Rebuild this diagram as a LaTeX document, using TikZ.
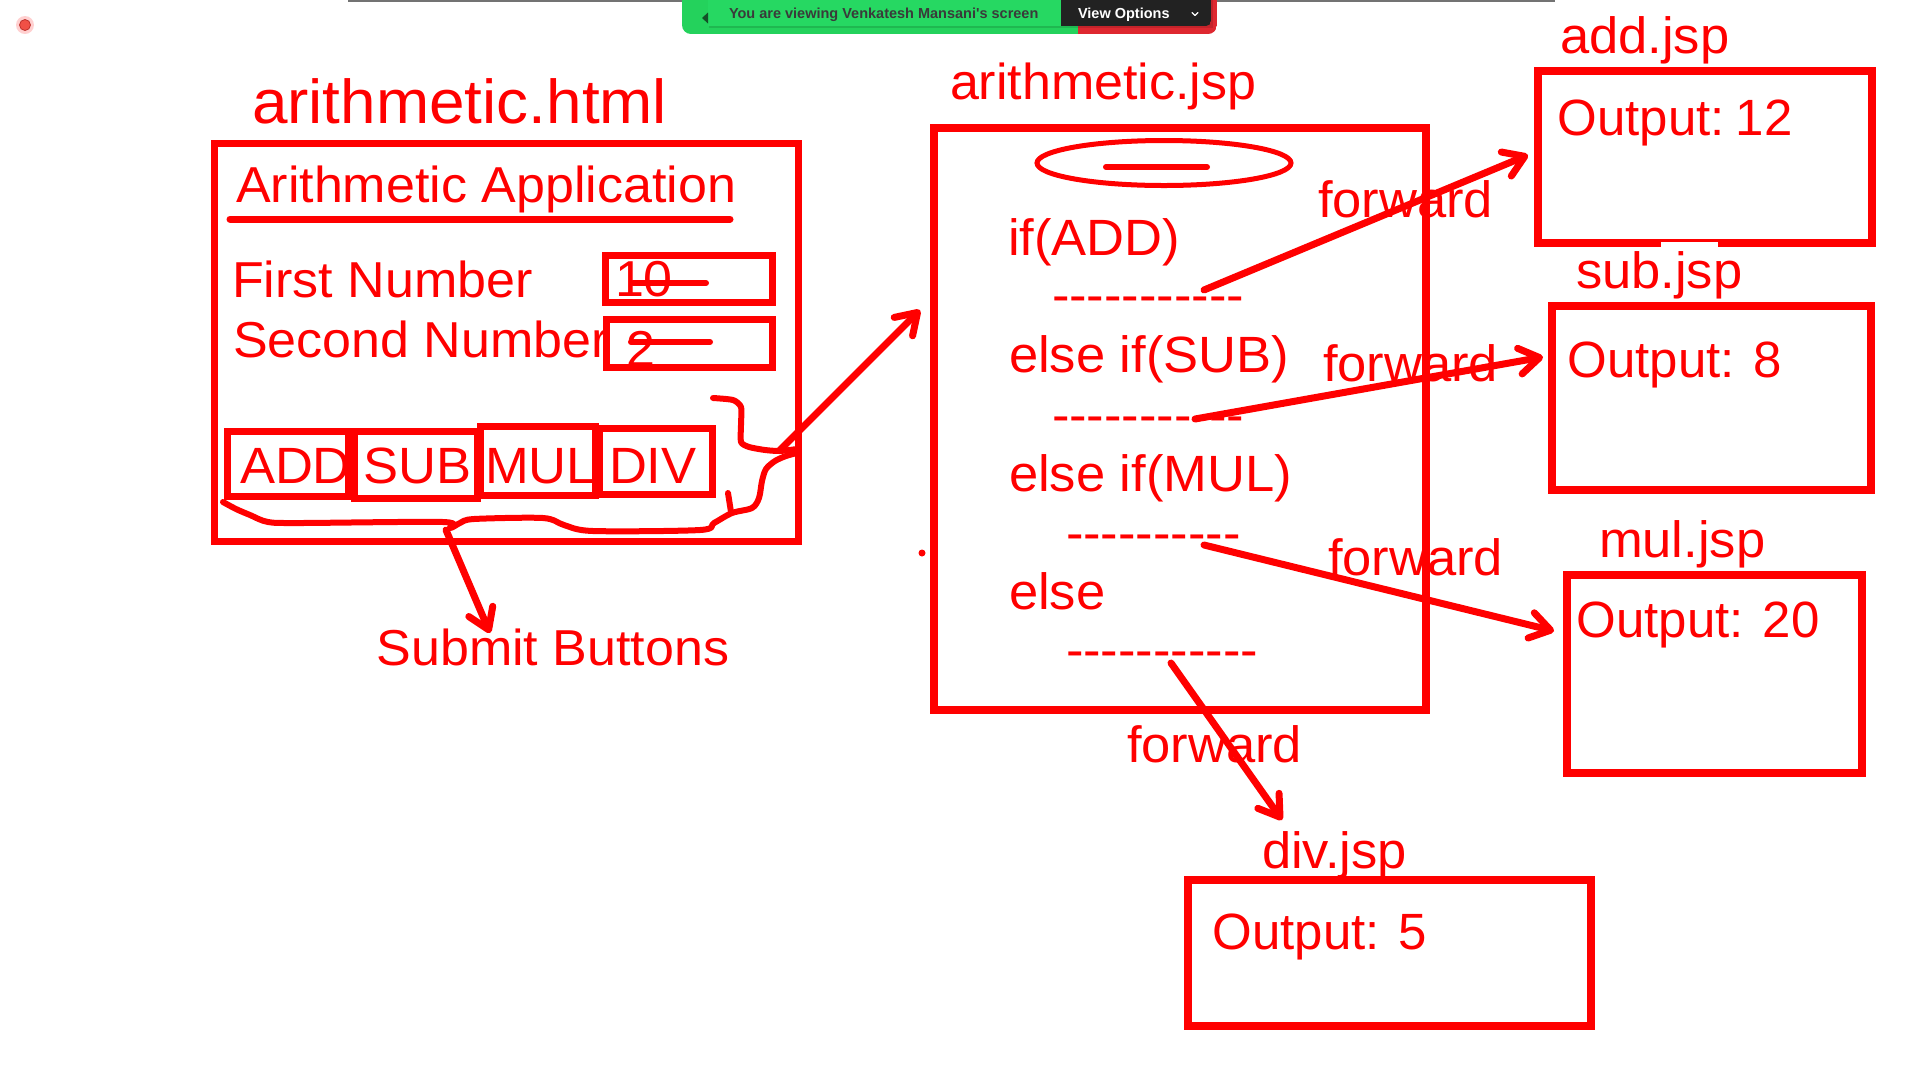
\documentclass[tikz,border=0pt]{standalone}
\usepackage{fontspec}
\setmainfont{Liberation Sans}[Ligatures=TeXOff, FakeStretch=1.03]
\newfontfamily\bannerfont{Liberation Sans}[Ligatures=TeXOff]
\usetikzlibrary{arrows.meta}
\definecolor{ink}{RGB}{255,0,0}
\definecolor{bgreen}{RGB}{36,210,92}
\definecolor{bgreen2}{RGB}{38,216,98}
\definecolor{bred}{RGB}{222,40,48}
\definecolor{bdark}{RGB}{34,34,34}
\definecolor{btext}{RGB}{58,58,58}
\definecolor{bdkgreen}{RGB}{20,80,40}
\definecolor{dotred}{RGB}{240,80,70}
\definecolor{dotedge}{RGB}{190,50,45}
\begin{document}
\begin{tikzpicture}[x=1pt,y=-1pt,
  every node/.style={inner sep=0pt, outer sep=0pt, text=ink},
  lbl/.style={anchor=base west, font=\fontsize{51}{51}\selectfont},
  outlbl/.style={anchor=base west, font=\bannerfont\fontsize{51}{51}\selectfont},
  lblbig/.style={anchor=base west, font=\fontsize{62}{62}\selectfont},
  lblmid/.style={anchor=base west, font=\fontsize{50.5}{50.5}\selectfont},
  frame/.style={draw=ink, line width=8pt},
  btn/.style={draw=ink, line width=7pt},
  pen/.style={draw=ink, line width=6pt, line cap=round, line join=round},
  arr/.style={draw=ink, line width=7pt, line cap=round, line join=round,
    -{Straight Barb[length=20pt,width=26pt,round]}},
  bantext/.style={anchor=base west, font=\bannerfont\bfseries\fontsize{14.5}{14.5}\selectfont}
]
\useasboundingbox (0,0) rectangle (1920,1080);
\fill[white] (0,0) rectangle (1920,1080);

% top bar
\draw[black!55, line width=1.5pt] (348,0.75) -- (1555,0.75);
\begin{scope}
  \clip[rounded corners=9pt] (682,-12) rectangle (1217,34);
  \fill[bgreen] (682,-12) rectangle (1078,34);
  \fill[bred] (1078,-12) rectangle (1217,34);
\end{scope}
\fill[black, opacity=0.12] (709,-5) rectangle (1213,28);
\fill[bgreen2] (708,-5) rectangle (1061,26);
\begin{scope}
  \clip[rounded corners=5pt] (1040,-12) rectangle (1211,26);
  \fill[bdark] (1061,-12) rectangle (1211,26);
\end{scope}
\fill[bdkgreen] (702,18) -- (708,12.5) -- (708,23.5) -- cycle;
\node[bantext, text=btext] (bantxt) at (729,18.5) {You are viewing Venkatesh Mansani's screen};
\node[bantext, text=white] (viewopt) at (1078,18.5) {View Options};
\draw[white, line width=1.3pt, line cap=round, line join=round] (1192,12.5) -- (1195,15.5) -- (1198,12.5);

% red dot
\fill[red!30, opacity=0.6] (25,25) circle [radius=9];
\fill[dotred] (25,25) circle [radius=5.5];
\draw[dotedge, line width=0.8pt] (25,25) circle [radius=5.5];

% ---------- arithmetic.html ----------
\node[lblbig] (thtml) at (252,123) {arithmetic.html};
\node[btn] (html) at (506,342.5) [minimum width=584pt, minimum height=398pt] {};
\node[lblmid] (tapp) at (236,202) {Arithmetic Application};
\draw[pen, line width=7pt] (230,219) -- (730,219);
\node[lblmid] (tfirst) at (232,297) {First Number};
\node[lblmid] (tsecond) at (233,357) {Second Number};
\node[btn, minimum width=167pt, minimum height=47pt] (in1) at (688.5,279) {};
\node[btn, minimum width=166pt, minimum height=48pt] (in2) at (689,343.5) {};
\node[lblmid] (tten) at (615,296) {10};
\node[lblmid] (ttwo) at (626,366) {2};
\draw[pen] (633,283) -- (706,283);
\draw[pen] (631,342) -- (710,342);

\node[btn, minimum width=120.5pt, minimum height=65pt] (badd) at (287.75,464) {};
\node[btn, minimum width=123pt, minimum height=67pt] (bsub) at (415.5,464.5) {};
\node[btn, minimum width=114.5pt, minimum height=69pt] (bmul) at (537.75,461) {};
\node[btn, minimum width=113pt, minimum height=66pt] (bdiv) at (655.5,461.5) {};
\node[lbl] (tadd) at (240,483) {ADD};
\node[lbl] (tsub) at (363.5,483) {SUB};
\node[lbl] (tmul) at (485,483) {MUL};
\node[lbl] (tdiv) at (609,483) {DIV};

% hand-drawn brace
\draw[pen] plot[smooth, tension=0.5] coordinates {(223,502) (236,509) (250,515) (268,522) (300,523) (443,522) (450,528) (460,523) (474,519) (543,518) (564,525) (593,531) (700,530) (714,523) (732,513) (752,508) (759,498) (762,481) (766,469) (775,461) (786,456) (797,453)};
\draw[pen] (728,493) -- (731,512);
\draw[pen] plot[smooth, tension=0.4] coordinates {(713,398) (733,400) (741,407) (741,425) (741,442) (749,447) (765,450) (780,451) (797,449)};

\node[lblmid] (tsubmit) at (376.5,665) {Submit Buttons};

% ---------- arithmetic.jsp ----------
\node[lblmid] (tjsp) at (950,99) {arithmetic.jsp};
\node[frame, minimum width=492pt, minimum height=582.5pt] (jsp) at (1179.5,418.75) {};
\draw[ink, line width=5pt] (1164,163) ellipse [x radius=127, y radius=22.5];
\draw[pen] (1106,167) -- (1207,167);
\node[lbl] (c1) at (1008,255) {if(ADD)};
\node[lbl] (d1) at (1052,312) {-----------};
\node[lbl] (c2) at (1009,372) {else if(SUB)};
\node[lbl] (d2) at (1052,432) {-----------};
\node[lbl] (c3) at (1009,491) {else if(MUL)};
\node[lbl] (d3) at (1066,550) {----------};
\node[lbl] (c4) at (1009,609) {else};
\node[lbl] (d4) at (1066,667) {-----------};
\fill[ink] (922,553) circle [radius=3.5];

% ---------- target pages ----------
\node[lbl] (tadd2) at (1560,53) {add.jsp};
\node[frame, minimum width=334pt, minimum height=172pt] (addp) at (1704.5,156.5) {};
\fill[white] (1661,241.5) rectangle (1718,247.5);
\node[outlbl] (o1) at (1557.5,135) {Output: \kern-8pt 12};

\node[lbl] (tsub2) at (1576,288) {sub.jsp};
\node[frame, minimum width=319pt, minimum height=184pt] (subp) at (1711.5,398) {};
\node[outlbl] (o2) at (1567.5,377) {Output: 8};

\node[lbl] (tmul2) at (1599,557) {mul.jsp};
\node[frame, minimum width=295.5pt, minimum height=198pt] (mulp) at (1714.25,674) {};
\node[outlbl] (o3) at (1576.5,637) {Output: 20};

\node[lbl] (tdiv2) at (1262,868) {div.jsp};
\node[frame, minimum width=403pt, minimum height=146pt] (divp) at (1389.5,952.5) {};
\node[outlbl] (o4) at (1212.5,949) {Output: 5};

% forward labels
\node[lbl] (f1) at (1318,217) {forward};
\node[lbl] (f2) at (1323,381) {forward};
\node[lbl] (f3) at (1328,575) {forward};
\node[lbl] (f4) at (1127,762) {forward};

% ---------- arrows ----------
\coordinate (hs) at (780,450);  \coordinate (he) at (920,310);
\coordinate (ss) at (446,530);  \coordinate (se) at (490,633);
\coordinate (a1s) at (1204,290); \coordinate (a1e) at (1528,155);
\coordinate (a2s) at (1195,419); \coordinate (a2e) at (1543,357);
\coordinate (a3s) at (1204,545); \coordinate (a3e) at (1554,631);
\coordinate (a4s) at (1171,663); \coordinate (a4e) at (1282,820);
\draw[arr] (hs) -- (he);
\draw[arr] (ss) -- (se);
\draw[arr] (a1s) -- (a1e);
\draw[arr] (a2s) -- (a2e);
\draw[arr] (a3s) -- (a3e);
\draw[arr] (a4s) -- (a4e);
\end{tikzpicture}
\end{document}
